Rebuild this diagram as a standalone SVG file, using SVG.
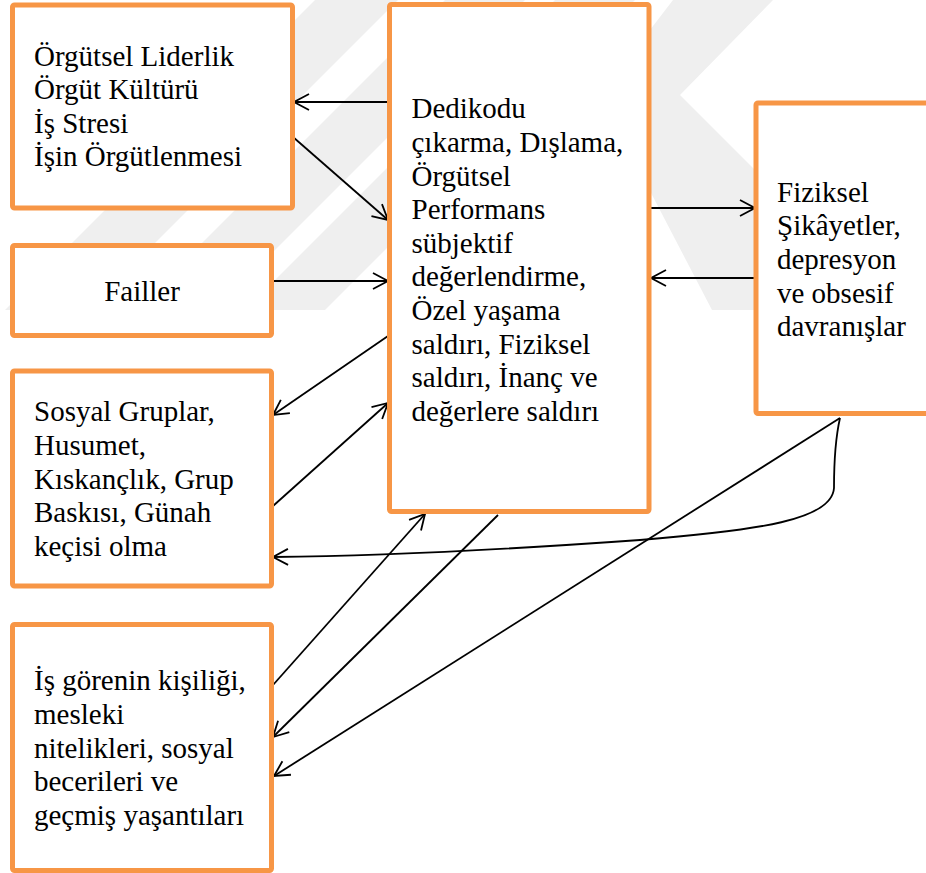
<svg xmlns="http://www.w3.org/2000/svg" width="926" height="873" viewBox="0 0 926 873">
<style>
.box{fill:#ffffff;stroke:#F79646;stroke-width:5}
.t{font-family:"Liberation Serif","Times New Roman",serif;font-size:29px;fill:#000}
.c{fill:none;stroke:#000;stroke-width:1.8}
.wm{fill:#efefef}
</style>
<defs>
<marker id="ah" markerUnits="userSpaceOnUse" markerWidth="20" markerHeight="20" viewBox="0 0 20 20" refX="17" refY="10" orient="auto" overflow="visible">
<path d="M2,2 L17,10 L2,18" fill="none" stroke="#000" stroke-width="1.8"/>
</marker>
</defs>
<rect width="926" height="873" fill="#ffffff"/>
<g id="watermark">
<polygon class="wm" points="5,310 88,310 398,0 315,0"/>
<polygon class="wm" points="135,310 215,310 525,0 445,0"/>
<polygon class="wm" points="245,310 325,310 635,0 555,0"/>
<polygon class="wm" points="673,0 773,0 680,95 760,175 760,310 712,310 600,95"/>
</g>
<g id="connectors">
<line class="c" x1="388" y1="102" x2="294" y2="102" marker-end="url(#ah)"/>
<line class="c" x1="293" y1="137" x2="388" y2="220" marker-end="url(#ah)"/>
<line class="c" x1="273" y1="281" x2="388" y2="281" marker-end="url(#ah)"/>
<line class="c" x1="388" y1="336" x2="273" y2="415" marker-end="url(#ah)"/>
<line class="c" x1="273" y1="506" x2="388" y2="403" marker-end="url(#ah)"/>
<line class="c" x1="651" y1="208" x2="755" y2="208" marker-end="url(#ah)"/>
<line class="c" x1="755" y1="278" x2="651" y2="278" marker-end="url(#ah)"/>
<path class="c" d="M840,418 C835,440 834,470 834,488 C832,520 760,530 640,540 C500,550 380,556 273,557" marker-end="url(#ah)"/>
<line class="c" x1="840" y1="418" x2="274" y2="776" marker-end="url(#ah)"/>
<line class="c" x1="498" y1="515" x2="273" y2="737" marker-end="url(#ah)"/>
<line class="c" x1="273" y1="685" x2="425" y2="514" marker-end="url(#ah)"/>
</g>
<g id="node-orgutsel">
<rect class="box" x="12.5" y="5" width="280" height="203" rx="2"/>
<text class="t" x="34" y="65.5">Örgütsel Liderlik</text>
<text class="t" x="34" y="99">Örgüt Kültürü</text>
<text class="t" x="34" y="132.5">İş Stresi</text>
<text class="t" x="34" y="166">İşin Örgütlenmesi</text>
</g>
<g id="node-failler">
<rect class="box" x="12.5" y="245.5" width="259" height="90" rx="2"/>
<text class="t" x="142" y="301" text-anchor="middle">Failler</text>
</g>
<g id="node-sosyal">
<rect class="box" x="12.5" y="371" width="259" height="215" rx="2"/>
<text class="t" x="34" y="421">Sosyal Gruplar,</text>
<text class="t" x="34" y="454.75">Husumet,</text>
<text class="t" x="34" y="488.5">Kıskançlık, Grup</text>
<text class="t" x="34" y="522.25">Baskısı, Günah</text>
<text class="t" x="34" y="556">keçisi olma</text>
</g>
<g id="node-is">
<rect class="box" x="12.5" y="624.5" width="259" height="246" rx="2"/>
<text class="t" x="34" y="690">İş görenin kişiliği,</text>
<text class="t" x="34" y="723.75">mesleki</text>
<text class="t" x="34" y="757.5">nitelikleri, sosyal</text>
<text class="t" x="34" y="791.25">becerileri ve</text>
<text class="t" x="34" y="825">geçmiş yaşantıları</text>
</g>
<g id="node-center">
<rect class="box" x="389.5" y="4.5" width="259.5" height="507" rx="2"/>
<text class="t" x="411.5" y="118.3">Dedikodu</text>
<text class="t" x="411.5" y="151.9">çıkarma, Dışlama,</text>
<text class="t" x="411.5" y="185.5">Örgütsel</text>
<text class="t" x="411.5" y="219.1">Performans</text>
<text class="t" x="411.5" y="252.7">sübjektif</text>
<text class="t" x="411.5" y="286.3">değerlendirme,</text>
<text class="t" x="411.5" y="319.9">Özel yaşama</text>
<text class="t" x="411.5" y="353.5">saldırı, Fiziksel</text>
<text class="t" x="411.5" y="387.1">saldırı, İnanç ve</text>
<text class="t" x="411.5" y="420.7">değerlere saldırı</text>
</g>
<g id="node-fiziksel">
<rect class="box" x="756" y="103" width="200" height="310.5" rx="2"/>
<text class="t" x="777" y="201.7">Fiziksel</text>
<text class="t" x="777" y="235.3">Şikâyetler,</text>
<text class="t" x="777" y="268.9">depresyon</text>
<text class="t" x="777" y="302.5">ve obsesif</text>
<text class="t" x="777" y="336.1">davranışlar</text>
</g>
</svg>
